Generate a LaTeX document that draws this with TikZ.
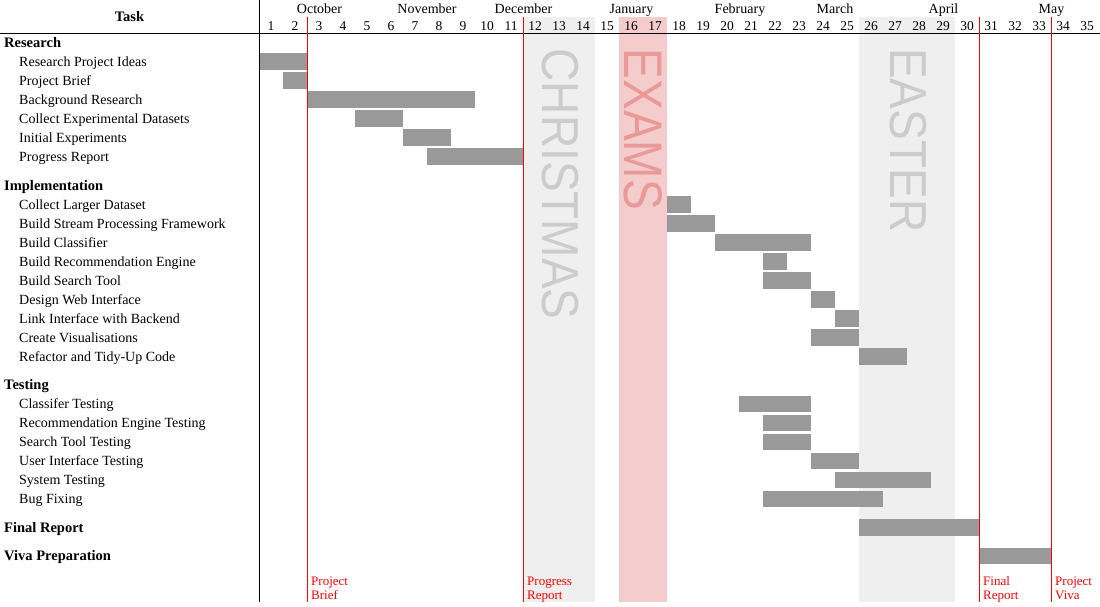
\documentclass[tikz,border=0pt]{standalone}
\usepackage{fontspec}
\setmainfont{Liberation Serif}
\newfontfamily\bigsans{Liberation Sans}
\usetikzlibrary{positioning}
\definecolor{barfill}{HTML}{999999}
\definecolor{hollfill}{HTML}{EFEFEF}
\definecolor{holltxt}{HTML}{CCCCCC}
\definecolor{examfill}{HTML}{F4CCCC}
\definecolor{examtxt}{HTML}{EA9999}
\definecolor{mile}{HTML}{FF0000}

\begin{document}
\begin{tikzpicture}[
  x=1pt, y=-1pt,
  task/.style={anchor=base west, inner sep=0pt, font=\fontsize{14}{16}\selectfont},
  grp/.style={anchor=base west, inner sep=0pt, font=\fontsize{14.5}{16}\selectfont\bfseries},
  month/.style={anchor=base, inner sep=0pt, font=\fontsize{14}{16}\selectfont},
  week/.style={anchor=base, inner sep=0pt, font=\fontsize{13.5}{16}\selectfont},
  bar/.style={fill=barfill},
  holl/.style={rotate=-90, anchor=west, inner sep=0pt, font=\bigsans\fontsize{46}{46}\selectfont},
  mlabel/.style={anchor=north west, inner sep=0pt, align=left, text=mile,
     font=\fontsize{13}{14}\selectfont},
  mline/.style={draw=mile, line width=1pt},
  grid/.style={draw=black, line width=1pt},
]
% --- page ---
\fill[white] (0,0) rectangle (1100,606);
\useasboundingbox (0,0) rectangle (1100,606);
% --- columns ---
\def\xo{259}  \def\wk{24}  \def\ytop{17}  \def\ybot{602}
% --- holidays ---
\fill[hollfill] ({\xo+11*\wk},\ytop) rectangle ({\xo+14*\wk},\ybot);
\fill[examfill] ({\xo+15*\wk},\ytop) rectangle ({\xo+17*\wk},\ybot);
\fill[hollfill] ({\xo+25*\wk},\ytop) rectangle ({\xo+29*\wk},\ybot);
\node[holl, text=holltxt] (xmas)  at (560,48.5) {\scalebox{1}[1.13]{CHRISTMAS}};
\node[holl, text=examtxt] (exams) at (643,48.5) {\scalebox{1}[1.18]{EXAMS}};
\node[holl, text=holltxt] (easter) at (908,48) {\scalebox{1}[1.13]{EASTER}};
% --- header ---
\node[grp, anchor=base] (task) at (129.5,21.3) {Task};
\foreach \m/\mx in {October/319.5, November/427, December/523.5, January/631.5,
    February/740, March/835, April/943.5, May/1051.5}
  \node[month] (\m) at (\mx,13.4) {\m};
\foreach \w in {1,...,35}
  \node[week] (w\w) at ({\xo+(\w-0.5)*\wk},30) {\w};
% --- groups ---
\node[grp] (research) at (4,47.4) {Research};
\node[grp] (impl)     at (4,190.4) {Implementation};
\node[grp] (testing)  at (4,389.9) {Testing};
\node[grp] (final)    at (4,532.4) {Final Report};
\node[grp] (viva)     at (4,560.9) {Viva Preparation};
% --- tasks and bars ---
\foreach \ry/\lab/\a/\b [count=\i] in {
    61.5/Research Project Ideas/1/2,
    80.5/Project Brief/2/2,
    99.5/Background Research/3/9,
    118.5/Collect Experimental Datasets/5/6,
    137.5/Initial Experiments/7/8,
    156.5/Progress Report/8/11,
    204.5/Collect Larger Dataset/18/18,
    223.5/Build Stream Processing Framework/18/19,
    242.5/Build Classifier/20/23,
    261.5/Build Recommendation Engine/22/22,
    280.5/Build Search Tool/22/23,
    299.5/Design Web Interface/24/24,
    318.5/Link Interface with Backend/25/25,
    337.5/Create Visualisations/24/25,
    356.5/Refactor and Tidy-Up Code/26/27,
    404/Classifer Testing/21/23,
    423/Recommendation Engine Testing/22/23,
    442/Search Tool Testing/22/23,
    461/User Interface Testing/24/25,
    480/System Testing/25/28,
    499/Bug Fixing/22/26} {
  \node[task] (t\i) at (19,\ry+4.9) {\lab};
  \fill[bar] ({\xo+(\a-1)*\wk},\ry-8.4) rectangle ({\xo+\b*\wk},\ry+8.4);
}
\fill[bar] ({\xo+25*\wk},527.5-8.4) rectangle ({\xo+30*\wk},527.5+8.4);
\fill[bar] ({\xo+30*\wk},556-8.4) rectangle ({\xo+33*\wk},556+8.4);
% --- grid ---
\draw[grid] (0,33.3) -- (1100,33.3);
\draw[grid] (\xo,0) -- (\xo,\ybot);
% --- milestones ---
\foreach \wn/\lab [count=\j] in {2/Project\\Brief, 11/Progress\\Report,
    30/Final\\Report, 33/Project\\Viva} {
  \draw[mline] ({\xo+\wn*\wk},\ytop) -- ({\xo+\wn*\wk},\ybot);
  \node[mlabel] (m\j) at ({\xo+\wn*\wk+4},575.2) {\strut\lab};
}
\end{tikzpicture}
\end{document}
